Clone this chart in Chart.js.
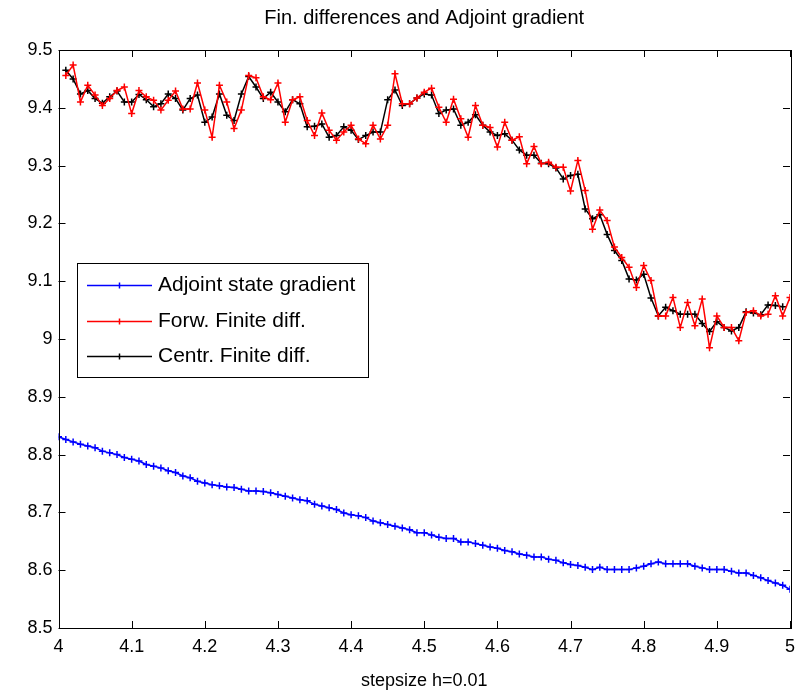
<!DOCTYPE html>
<html>
<head>
<meta charset="utf-8">
<script src="https://cdn.jsdelivr.net/npm/chart.js@4.4.0/dist/chart.umd.min.js"></script>
<style>
  html, body { margin: 0; padding: 0; background: #fff; }
  #wrap { width: 807px; height: 693px; }
</style>
</head>
<body>
<div id="wrap"><canvas id="gradChart"></canvas></div>
<script>
// step sizes: adjoint from 4.00, finite differences from 4.01
var hStart = 4.0, hStep = 0.01;
var xTicks = [4, 4.1, 4.2, 4.3, 4.4, 4.5, 4.6, 4.7, 4.8, 4.9, 5];
var yTicks = [8.5, 8.6, 8.7, 8.8, 8.9, 9, 9.1, 9.2, 9.3, 9.4, 9.5];

var adjointGrad = [
  8.831, 8.826, 8.822, 8.818, 8.815, 8.812, 8.806, 8.803, 8.800, 8.795,
  8.792, 8.789, 8.783, 8.780, 8.777, 8.772, 8.769, 8.763, 8.760, 8.754,
  8.751, 8.748, 8.746, 8.744, 8.743, 8.740, 8.737, 8.737, 8.736, 8.734,
  8.731, 8.728, 8.725, 8.722, 8.720, 8.714, 8.711, 8.708, 8.705, 8.699,
  8.696, 8.694, 8.691, 8.685, 8.682, 8.679, 8.676, 8.673, 8.670, 8.665,
  8.665, 8.661, 8.657, 8.655, 8.655, 8.649, 8.649, 8.646, 8.643, 8.640,
  8.638, 8.634, 8.632, 8.628, 8.626, 8.623, 8.623, 8.619, 8.617, 8.613,
  8.610, 8.608, 8.605, 8.601, 8.605, 8.601, 8.601, 8.601, 8.601, 8.604,
  8.607, 8.611, 8.614, 8.611, 8.611, 8.611, 8.611, 8.607, 8.604, 8.601,
  8.601, 8.601, 8.598, 8.595, 8.595, 8.591, 8.587, 8.582, 8.578, 8.574,
  8.567
];

var forwDiff = [
  9.456, 9.474, 9.410, 9.439, 9.422, 9.404, 9.416, 9.430, 9.436, 9.390,
  9.430, 9.419, 9.413, 9.396, 9.413, 9.429, 9.398, 9.398, 9.443, 9.396,
  9.349, 9.439, 9.410, 9.364, 9.396, 9.456, 9.452, 9.419, 9.414, 9.443,
  9.375, 9.414, 9.419, 9.378, 9.352, 9.391, 9.361, 9.344, 9.358, 9.370,
  9.346, 9.338, 9.370, 9.346, 9.370, 9.459, 9.407, 9.407, 9.417, 9.427,
  9.434, 9.401, 9.375, 9.415, 9.381, 9.349, 9.404, 9.370, 9.366, 9.332,
  9.375, 9.344, 9.350, 9.303, 9.333, 9.303, 9.306, 9.297, 9.297, 9.256,
  9.309, 9.257, 9.190, 9.223, 9.205, 9.159, 9.141, 9.124, 9.089, 9.127,
  9.101, 9.040, 9.040, 9.072, 9.020, 9.063, 9.023, 9.069, 8.985, 9.040,
  9.020, 9.020, 8.997, 9.046, 9.049, 9.040, 9.043, 9.075, 9.040, 9.072
];

var centrDiff = [
  9.465, 9.450, 9.424, 9.430, 9.416, 9.408, 9.419, 9.429, 9.410, 9.410,
  9.423, 9.414, 9.402, 9.407, 9.424, 9.416, 9.396, 9.416, 9.422, 9.375,
  9.384, 9.424, 9.387, 9.378, 9.424, 9.454, 9.436, 9.416, 9.427, 9.410,
  9.393, 9.414, 9.407, 9.367, 9.368, 9.372, 9.349, 9.352, 9.367, 9.361,
  9.345, 9.352, 9.358, 9.358, 9.414, 9.431, 9.404, 9.407, 9.417, 9.424,
  9.422, 9.390, 9.396, 9.398, 9.370, 9.375, 9.388, 9.370, 9.358, 9.352,
  9.355, 9.344, 9.327, 9.318, 9.318, 9.304, 9.303, 9.296, 9.277, 9.283,
  9.285, 9.225, 9.208, 9.215, 9.181, 9.153, 9.136, 9.104, 9.102, 9.112,
  9.071, 9.040, 9.055, 9.049, 9.043, 9.043, 9.043, 9.027, 9.013, 9.030,
  9.020, 9.014, 9.020, 9.047, 9.045, 9.042, 9.059, 9.058, 9.056
];

function toPoints(vals, firstIndex) {
  return vals.map(function(v, i) {
    return { x: +(hStart + (i + firstIndex) * hStep).toFixed(2), y: v };
  });
}

var FONT = '"Liberation Sans", Arial, Helvetica, sans-serif';
var chartTitle = 'Fin. differences and Adjoint gradient';

// title centred over the axes, like matlab does it
var axesTitle = {
  id: 'axesTitle',
  afterDraw: function(chart) {
    var ctx = chart.ctx, a = chart.chartArea;
    ctx.save();
    ctx.font = '20px ' + FONT;
    ctx.fillStyle = '#000';
    ctx.textAlign = 'center';
    ctx.textBaseline = 'middle';
    ctx.fillText(chartTitle, (a.left + a.right) / 2, 18);
    ctx.restore();
  }
};

// box around the plot with inward ticks on all four sides
var axesBox = {
  id: 'axesBox',
  afterDatasetsDraw: function(chart) {
    var ctx = chart.ctx, a = chart.chartArea;
    var xs = chart.scales.x, ys = chart.scales.y;
    var tl = 7;
    ctx.save();
    ctx.strokeStyle = '#000';
    ctx.lineWidth = 1;
    ctx.beginPath();
    xTicks.forEach(function(t) {
      var px = Math.round(xs.getPixelForValue(t)) + 0.5;
      ctx.moveTo(px, a.bottom); ctx.lineTo(px, a.bottom - tl);
      ctx.moveTo(px, a.top); ctx.lineTo(px, a.top + tl);
    });
    yTicks.forEach(function(t) {
      var py = Math.round(ys.getPixelForValue(t)) + 0.5;
      ctx.moveTo(a.left, py); ctx.lineTo(a.left + tl, py);
      ctx.moveTo(a.right, py); ctx.lineTo(a.right - tl, py);
    });
    ctx.stroke();
    ctx.strokeRect(Math.round(a.left) + 0.5, Math.round(a.top) + 0.5,
                   Math.round(a.right - a.left), Math.round(a.bottom - a.top));
    ctx.restore();
  }
};

// legend box inside the plot, upper left
var boxLegend = {
  id: 'boxLegend',
  afterDraw: function(chart) {
    var ctx = chart.ctx;
    var x0 = 77, y0 = 263, w = 291, h = 114;
    ctx.save();
    ctx.fillStyle = '#fff';
    ctx.fillRect(x0, y0, w, h);
    ctx.strokeStyle = '#000';
    ctx.lineWidth = 1;
    ctx.strokeRect(x0 + 0.5, y0 + 0.5, w, h);
    ctx.font = '21px ' + FONT;
    ctx.textBaseline = 'middle';
    chart.data.datasets.forEach(function(ds, i) {
      var ry = Math.round(y0 + 22 + i * 35.5) + 0.5;
      ctx.strokeStyle = ds.borderColor;
      ctx.lineWidth = 1.5;
      ctx.beginPath();
      ctx.moveTo(87, ry); ctx.lineTo(152, ry);
      ctx.moveTo(119.5, ry - 3); ctx.lineTo(119.5, ry + 3);
      ctx.stroke();
      ctx.fillStyle = '#000';
      ctx.fillText(ds.label, 158, ry);
    });
    ctx.restore();
  }
};

function seriesStyle(color) {
  return {
    borderColor: color,
    backgroundColor: color,
    borderWidth: 1.5,
    pointStyle: 'cross',
    pointRadius: 3.5,
    pointBorderWidth: 1.5,
    tension: 0
  };
}

var ctx = document.getElementById('gradChart').getContext('2d');
var gradChart = new Chart(ctx, {
  type: 'line',
  data: {
    datasets: [
      Object.assign({ label: 'Adjoint state gradient', data: toPoints(adjointGrad, 0) }, seriesStyle('#0000ff')),
      Object.assign({ label: 'Forw. Finite diff.', data: toPoints(forwDiff, 1) }, seriesStyle('#ff0000')),
      Object.assign({ label: 'Centr. Finite diff.', data: toPoints(centrDiff, 1) }, seriesStyle('#000000'))
    ]
  },
  options: {
    responsive: true,
    maintainAspectRatio: false,
    animation: false,
    layout: { padding: { left: 0, right: 17, top: 50, bottom: 0 } },
    plugins: {
      legend: { display: false },
      tooltip: { enabled: false },
      title: { display: false }
    },
    scales: {
      x: {
        type: 'linear',
        min: 4,
        max: 5,
        afterBuildTicks: function(scale) {
          scale.ticks = xTicks.map(function(v) { return { value: v }; });
        },
        afterFit: function(scale) { scale.height = 65; },
        ticks: {
          color: '#000',
          padding: 8,
          maxRotation: 0,
          font: { family: FONT, size: 18 },
          callback: function(v) { return String(+v.toFixed(2)); }
        },
        grid: { display: false, drawTicks: false },
        border: { display: false },
        title: {
          display: true,
          text: 'stepsize h=0.01',
          color: '#000',
          font: { family: FONT, size: 18 },
          padding: { top: 0, bottom: 1 }
        }
      },
      y: {
        type: 'linear',
        min: 8.5,
        max: 9.5,
        afterBuildTicks: function(scale) {
          scale.ticks = yTicks.map(function(v) { return { value: v }; });
        },
        afterFit: function(scale) { scale.width = 58.5; },
        ticks: {
          color: '#000',
          padding: 6,
          font: { family: FONT, size: 18 },
          callback: function(v) { return String(+v.toFixed(2)); }
        },
        grid: { display: false, drawTicks: false },
        border: { display: false }
      }
    }
  },
  plugins: [axesBox, boxLegend, axesTitle]
});
</script>
</body>
</html>
